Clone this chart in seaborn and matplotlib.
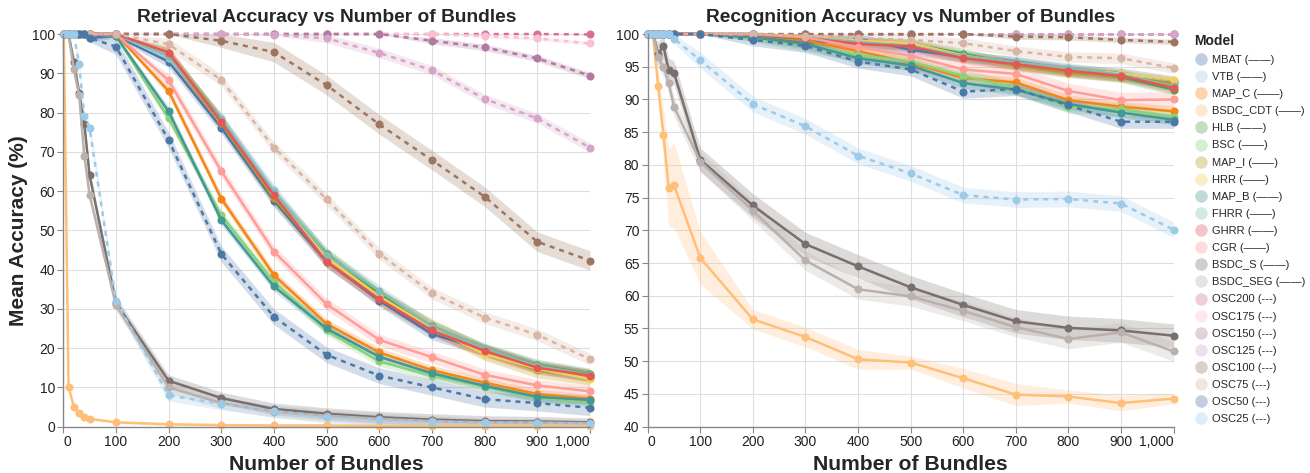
import seaborn as sns
import pandas as pd
import matplotlib.pyplot as plt
from matplotlib.lines import Line2D

sns.set_style("whitegrid")
plt.rcParams["font.family"] = ["Liberation Sans", "DejaVu Sans"]

bundles = [1, 10, 20, 30, 40, 50, 100, 200, 300, 400, 500, 600, 700, 800, 900, 1000]
models = ["MBAT", "VTB", "MAP_C", "BSDC_CDT", "HLB", "BSC", "MAP_I", "HRR", "MAP_B", "FHRR",
          "GHRR", "CGR", "BSDC_S", "BSDC_SEG", "OSC200", "OSC175", "OSC150", "OSC125",
          "OSC100", "OSC75", "OSC50", "OSC25"]
colors = ["#4c78a8", "#9ecae9", "#f58518", "#ffbf79", "#54a24b", "#88d27a", "#b79a20", "#f2cf5b",
          "#439894", "#83bcb6", "#e45756", "#ff9d98", "#79706e", "#bab0ac", "#d67195", "#fcbfd2",
          "#b279a2", "#d6a5c9", "#9e765f", "#d8b5a5", "#4c78a8", "#9ecae9"]

# retrieval accuracy (left)
ret_mbat = [100, 100, 100, 100, 100, 99.0, 99.5, 93.0, 76.1, 57.5, 42.0, 32.1, 23.6, 19.5, 15.2, 13.0]
ret_vtb = [100, 100, 100, 100, 100, 100, 100, 93.8, 78.5, 60.3, 43.5, 33.5, 25.0, 19.5, 15.0, 12.8]
ret_map_c = [100, 100, 100, 100, 100, 100, 100, 85.5, 58.1, 38.6, 26.2, 18.9, 14.4, 11.2, 8.3, 7.1]
ret_bsdc_cdt = [100, 10.2, 5.1, 3.4, 2.5, 2.0, 1.1, 0.6, 0.4, 0.3, 0.3, 0.2, 0.2, 0.2, 0.2, 0.2]
ret_hlb = [100, 100, 100, 100, 100, 100, 100, 95.0, 78.2, 59.0, 44.1, 33.8, 25.6, 19.7, 15.7, 13.4]
ret_bsc = [100, 100, 100, 100, 100, 100, 99.5, 78.5, 53.9, 36.9, 24.5, 16.6, 13.0, 10.2, 7.3, 6.3]
ret_map_i = [100, 100, 100, 100, 100, 100, 100, 94.5, 77.4, 58.2, 42.8, 33.0, 25.5, 18.9, 14.4, 12.5]
ret_hrr = [100, 100, 100, 100, 100, 100, 100, 94.8, 77.8, 59.5, 43.0, 33.2, 25.0, 18.5, 14.8, 12.1]
ret_map_b = [100, 100, 100, 100, 100, 100, 99.5, 80.3, 52.6, 35.7, 25.0, 17.8, 13.6, 10.4, 7.6, 6.8]
ret_fhrr = [100, 100, 100, 100, 100, 100, 100, 94.5, 78.0, 59.8, 43.8, 34.6, 25.5, 19.8, 15.5, 13.2]
ret_ghrr = [100, 100, 100, 100, 100, 100, 100, 95.3, 77.6, 59.0, 42.0, 32.5, 24.5, 19.3, 15.0, 13.0]
ret_cgr = [100, 100, 100, 100, 100, 100, 100, 88.2, 65.1, 44.6, 31.2, 22.1, 17.7, 13.2, 10.5, 9.0]
ret_bsdc_s = [100, 100, 93.0, 85.0, 77.1, 64.0, 31.5, 11.7, 7.3, 4.5, 3.3, 2.4, 1.8, 1.4, 1.3, 1.1]
ret_bsdc_seg = [100, 100, 91.0, 84.5, 69.0, 59.0, 31.0, 10.0, 6.0, 3.8, 2.8, 2.0, 1.4, 1.1, 1.0, 0.9]
ret_osc200 = [100, 100, 100, 100, 100, 100, 100, 100, 100, 100, 100, 100, 100, 100, 100, 99.9]
ret_osc175 = [100, 100, 100, 100, 100, 100, 100, 100, 100, 100, 100, 100, 100, 99.5, 98.9, 97.6]
ret_osc150 = [100, 100, 100, 100, 100, 100, 100, 100, 100, 100, 100, 100, 98.3, 96.6, 93.8, 89.4]
ret_osc125 = [100, 100, 100, 100, 100, 100, 100, 100, 100, 99.8, 98.9, 95.2, 90.8, 83.5, 78.5, 71.1]
ret_osc100 = [100, 100, 100, 100, 100, 100, 100, 100, 98.3, 95.4, 87.0, 77.0, 67.9, 58.6, 47.1, 42.3]
ret_osc75 = [100, 100, 100, 100, 100, 100, 100, 97.4, 88.3, 71.1, 57.9, 44.1, 34.0, 27.8, 23.4, 17.2]
ret_osc50 = [100, 100, 100, 100, 100, 99.0, 96.8, 73.0, 44.0, 28.0, 18.3, 13.0, 10.0, 7.0, 6.0, 4.8]
ret_osc25 = [100, 100, 100, 92.3, 79.0, 76.0, 32.0, 8.0, 5.8, 4.0, 2.4, 1.7, 1.3, 1.0, 1.0, 0.7]

# recognition accuracy (right)
rec_mbat = [100, 100, 100, 100, 100, 100, 100, 100, 98.6, 99.3, 97.6, 96.5, 95.8, 94.6, 94.0, 92.8]
rec_vtb = [100, 100, 100, 100, 100, 100, 100, 100, 99.5, 99.0, 98.2, 96.8, 95.5, 94.5, 93.7, 92.6]
rec_map_c = [100, 100, 100, 100, 100, 100, 100, 99.9, 99.0, 97.4, 95.6, 93.3, 92.6, 89.9, 88.9, 88.2]
rec_bsdc_cdt = [100, 100, 92.0, 84.6, 76.5, 76.9, 65.8, 56.4, 53.7, 50.3, 49.8, 47.4, 44.9, 44.6, 43.6, 44.3]
rec_hlb = [100, 100, 100, 100, 100, 100, 100, 99.8, 99.3, 98.6, 98.5, 97.0, 95.3, 94.3, 93.4, 91.5]
rec_bsc = [100, 100, 100, 100, 100, 100, 100, 99.4, 98.3, 96.8, 95.8, 93.6, 91.8, 88.9, 88.5, 87.3]
rec_map_i = [100, 100, 100, 100, 100, 100, 100, 100, 99.6, 98.8, 98.4, 96.5, 95.2, 94.1, 93.5, 92.5]
rec_hrr = [100, 100, 100, 100, 100, 100, 100, 100, 99.7, 99.0, 98.6, 96.7, 95.6, 94.6, 94.0, 93.0]
rec_map_b = [100, 100, 100, 100, 100, 100, 100, 99.5, 98.5, 96.3, 95.2, 92.5, 91.5, 89.3, 88.0, 86.9]
rec_fhrr = [100, 100, 100, 100, 100, 100, 100, 100, 99.5, 98.8, 98.2, 96.6, 95.7, 94.8, 93.8, 92.0]
rec_ghrr = [100, 100, 100, 100, 100, 100, 100, 99.9, 99.4, 98.5, 98.1, 96.3, 95.4, 94.4, 93.6, 91.8]
rec_cgr = [100, 100, 100, 100, 100, 100, 100, 100, 99.5, 98.0, 96.7, 94.6, 93.9, 91.3, 89.9, 90.0]
rec_bsdc_s = [100, 100, 97.0, 98.1, 94.5, 94.1, 80.8, 73.8, 67.9, 64.5, 61.3, 58.6, 56.1, 55.1, 54.7, 53.9]
rec_bsdc_seg = [100, 100, 96.5, 95.0, 92.5, 88.9, 80.5, 73.0, 65.4, 61.0, 59.9, 57.7, 55.2, 53.4, 54.4, 51.5]
rec_osc200 = [100, 100, 100, 100, 100, 100, 100, 100, 100, 100, 100, 100, 100, 100, 100, 100]
rec_osc175 = [100, 100, 100, 100, 100, 100, 100, 100, 100, 100, 100, 100, 100, 100, 100, 100]
rec_osc150 = [100, 100, 100, 100, 100, 100, 100, 100, 100, 100, 100, 100, 100, 100, 100, 100]
rec_osc125 = [100, 100, 100, 100, 100, 100, 100, 100, 100, 100, 100, 100, 100, 100, 100, 100]
rec_osc100 = [100, 100, 100, 100, 100, 100, 100, 100, 100, 100, 100, 100, 99.6, 99.5, 99.1, 98.8]
rec_osc75 = [100, 100, 100, 100, 100, 100, 100, 100, 99.7, 99.4, 99.1, 98.6, 97.4, 96.5, 96.3, 94.8]
rec_osc50 = [100, 100, 100, 100, 100, 100, 100, 99.1, 98.2, 95.8, 94.6, 91.2, 91.6, 89.1, 86.6, 86.6]
rec_osc25 = [100, 100, 100, 100, 100, 99.3, 96.0, 89.3, 85.9, 81.4, 78.7, 75.4, 74.7, 74.8, 74.1, 70.1]

# half width of the shaded band around each line
ret_band = [1.5, 1.5, 1.2, 0.3, 1.5, 1.2, 2.0, 1.5, 1.2, 1.5, 1.5, 1.5, 1.5, 1.5,
            0.2, 0.5, 0.8, 1.2, 2.5, 1.5, 2.0, 1.5]
rec_band = [0.8, 0.8, 0.8, None, 0.8, 1.0, 0.8, 0.6, 0.8, 0.8, 0.8, 1.2, 1.8, 1.5,
            0.1, 0.1, 0.1, 0.1, 0.4, 0.8, 1.0, 1.2]
rec_band_bsdc_cdt = [0, 0, 2.5, 4.0, 6.0, 6.5, 4.0, 1.5, 1.5, 1.5, 1.0, 1.5, 1.7, 1.0, 1.2, 0.8]
rec_band[3] = rec_band_bsdc_cdt

retrieval = [ret_mbat, ret_vtb, ret_map_c, ret_bsdc_cdt, ret_hlb, ret_bsc, ret_map_i, ret_hrr,
             ret_map_b, ret_fhrr, ret_ghrr, ret_cgr, ret_bsdc_s, ret_bsdc_seg, ret_osc200,
             ret_osc175, ret_osc150, ret_osc125, ret_osc100, ret_osc75, ret_osc50, ret_osc25]
recognition = [rec_mbat, rec_vtb, rec_map_c, rec_bsdc_cdt, rec_hlb, rec_bsc, rec_map_i, rec_hrr,
               rec_map_b, rec_fhrr, rec_ghrr, rec_cgr, rec_bsdc_s, rec_bsdc_seg, rec_osc200,
               rec_osc175, rec_osc150, rec_osc125, rec_osc100, rec_osc75, rec_osc50, rec_osc25]

palette = dict(zip(models, colors))
dash_map = {m: (2, 2) if m.startswith("OSC") else "" for m in models}
marker_map = {m: "o" for m in models}


def draw(ax, series, bands, title, ymin, ystep):
    rows = []
    for m, vals, w in zip(models, series, bands):
        ws = w if isinstance(w, list) else [w] * len(bundles)
        for x, v, b in zip(bundles, vals, ws):
            b = min(b, 100 - v, v)
            for y in (v - b, v, v + b):
                rows.append({"Model": m, "Bundles": x, "Accuracy": y})
    df = pd.DataFrame(rows)
    sns.lineplot(data=df, x="Bundles", y="Accuracy", hue="Model", style="Model",
                 hue_order=models, style_order=models, palette=palette,
                 markers=marker_map, dashes=dash_map, estimator="median",
                 errorbar=("pi", 100), err_kws={"alpha": 0.25, "linewidth": 0},
                 linewidth=1.8, markersize=5.8, markeredgewidth=0, legend=False, ax=ax)
    for art in ax.lines + ax.collections:
        art.set_clip_on(False)
    ax.set_xlim(0, 1000)
    ax.set_ylim(ymin, 100)
    ticks = list(range(0, 1001, 100))
    ax.set_xticks(ticks)
    ax.set_xticklabels([f"{t:,}" for t in ticks])
    labels = ax.get_xticklabels()
    labels[0].set_ha("left")
    labels[-1].set_ha("right")
    ax.set_yticks(range(ymin, 101, ystep))
    ax.grid(color="#dedede", linewidth=0.8)
    ax.set_axisbelow(True)
    for s in ["top", "right"]:
        ax.spines[s].set_visible(False)
    for s in ["left", "bottom"]:
        ax.spines[s].set_color("#888888")
        ax.spines[s].set_linewidth(1)
    ax.tick_params(bottom=True, left=True, length=4, width=0.8, color="#888888",
                   labelsize=10, labelcolor="#222222", pad=2)
    ax.set_title(title, fontsize=13.8, fontweight="bold", pad=9)
    ax.set_xlabel("Number of Bundles", fontsize=15.2, fontweight="bold", labelpad=4)
    ax.set_ylabel("")


fig = plt.figure(figsize=(13.1, 4.73), dpi=100)
ax1 = fig.add_axes([0.0483, 0.098, 0.402, 0.830])
ax2 = fig.add_axes([0.4944, 0.098, 0.4015, 0.830])
draw(ax1, retrieval, ret_band, "Retrieval Accuracy vs Number of Bundles", 0, 10)
draw(ax2, recognition, rec_band, "Recognition Accuracy vs Number of Bundles", 40, 5)
ax1.set_ylabel("Mean Accuracy (%)", fontsize=15, fontweight="bold", labelpad=3)

handles = [Line2D([], [], marker="o", linestyle="", markersize=9, markerfacecolor=c,
                  markeredgewidth=0, alpha=0.35) for c in colors]
names = [f"{m} (---)" if m.startswith("OSC") else f"{m} (——)" for m in models]
leg = fig.legend(handles, names, title="Model", loc="upper left", bbox_to_anchor=(0.908, 0.938),
                 frameon=False, fontsize=8, title_fontproperties={"weight": "bold", "size": 10},
                 labelspacing=0.64, handletextpad=0.45, handlelength=1.2, borderaxespad=0,
                 alignment="left")

fig.savefig("out.png", dpi=100)
